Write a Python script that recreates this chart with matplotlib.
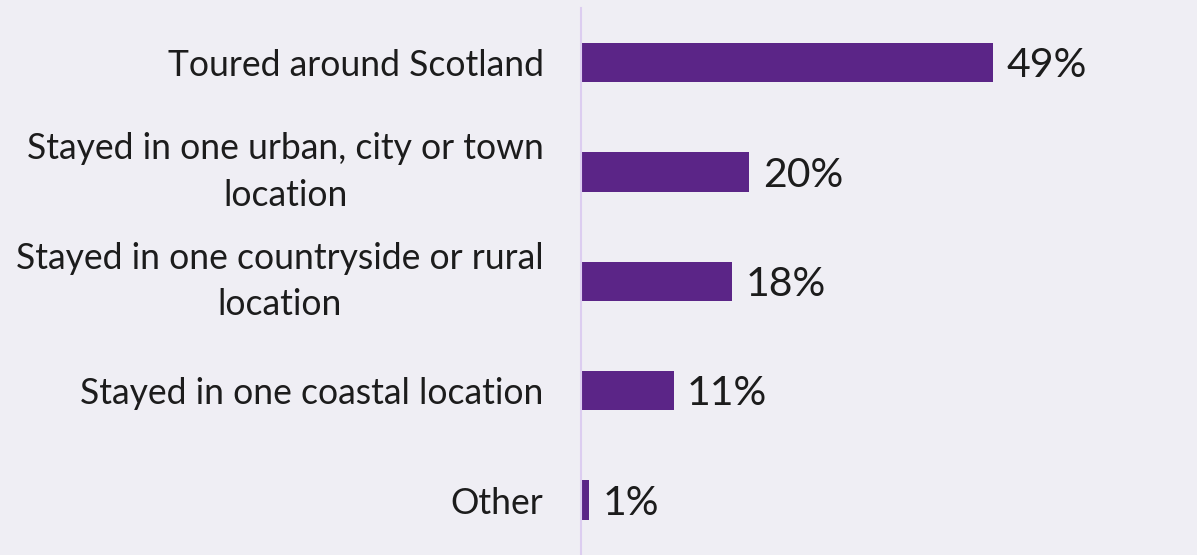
import matplotlib
matplotlib.use("Agg")
import matplotlib.pyplot as plt

# data
categories = [
    "Toured around Scotland",
    "Stayed in one urban, city or town\nlocation",
    "Stayed in one countryside or rural\nlocation",
    "Stayed in one coastal location",
    "Other",
]
values = [49, 20, 18, 11, 1]
value_labels = ["49%", "20%", "18%", "11%", "1%"]

bg = "#efeef4"
bar_color = "#5b2587"
text_color = "#1c1c1c"

plt.rcParams["font.family"] = ["Lato", "DejaVu Sans"]

fig = plt.figure(figsize=(11.97, 5.55), dpi=100, facecolor=bg)
ax = fig.add_axes([581 / 1197, -3 / 555, 616 / 1197, 550 / 555], facecolor=bg)

y = list(range(len(categories)))
ax.barh(y, values, height=0.36, color=bar_color)
ax.set_ylim(len(categories) - 0.5 + 0.03, -0.5)
ax.set_xlim(0, 616 / 8.41)

for yi, v, lab in zip(y, values, value_labels):
    ax.text(v + 1.6, yi + 0.03, lab, va="center", ha="left",
            fontsize=29.5, color=text_color)

ax.set_yticks(y)
ax.set_yticklabels(categories, fontsize=25.6, color=text_color,
                   multialignment="center", linespacing=1.5)
for t in ax.get_yticklabels():
    if "\n" in t.get_text():
        t.set_va("center")
ax.tick_params(axis="y", length=0, pad=27)
ax.set_xticks([])

for s in ["top", "right", "bottom"]:
    ax.spines[s].set_visible(False)
ax.spines["left"].set_color("#dccdf0")
ax.spines["left"].set_linewidth(1.5)

fig.savefig("out.png", dpi=100, facecolor=bg)
